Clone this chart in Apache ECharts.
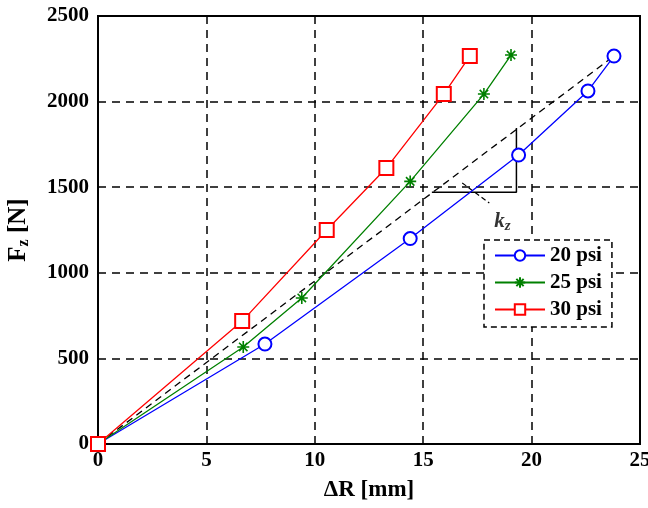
<!DOCTYPE html>
<html><head><meta charset="utf-8">
<script src="https://cdn.jsdelivr.net/npm/echarts@6/dist/echarts.min.js"></script>
<style>html,body{margin:0;padding:0;background:#fff}#c{width:648px;height:508px}</style>
</head><body><div id="c"></div>
<script>
const xTicks = [0, 5, 10, 15, 20, 25];
const yTicks = [0, 500, 1000, 1500, 2000, 2500];
const seriesNames = ['20 psi', '25 psi', '30 psi'];
const dR20 = [0, 7.7, 14.4, 19.4, 22.6, 23.8];
const fz20 = [0, 584, 1200, 1688, 2062, 2266];
const dR25 = [0, 6.7, 9.4, 14.4, 17.8, 19.05];
const fz25 = [0, 567, 853, 1534, 2044, 2272];
const dR30 = [0, 6.65, 10.55, 13.3, 15.95, 17.15];
const fz30 = [0, 718, 1250, 1612, 2044, 2266];
const kzLineX = [0, 23.8];
const kzLineY = [0, 2266];
const triX = [15.4, 19.3, 19.3];
const triY = [1470, 1470, 1846];
const leaderX = [16.8, 18.05];
const leaderY = [1525, 1408];
const kzLabelPos = [18.65, 1300];

const pairs = (xs, ys) => xs.map((x, i) => [x, ys[i]]);
const font = '"Liberation Serif","Times New Roman",serif';
const star = 'path://M0,-6L0,6M-6,0L6,0M-4.2,-4.2L4.2,4.2M-4.2,4.2L4.2,-4.2';

const chart = echarts.init(document.getElementById('c'), null, {renderer: 'canvas'});
chart.setOption({
  animation: false,
  backgroundColor: '#fff',
  textStyle: {fontFamily: font},
  grid: {left: 98, right: 8, top: 16, bottom: 64, show: true, borderColor: '#000', borderWidth: 2,
    backgroundColor: 'transparent', containLabel: false, outerBoundsMode: 'none'},
  xAxis: {
    type: 'value', min: 0, max: 25, interval: 5,
    name: 'ΔR [mm]', nameLocation: 'middle', nameGap: 35,
    nameTextStyle: {fontFamily: font, fontWeight: 'bold', fontSize: 23, color: '#000'},
    axisLine: {show: true, lineStyle: {color: '#000', width: 2}},
    axisTick: {show: false},
    axisLabel: {color: '#000', fontFamily: font, fontWeight: 'bold', fontSize: 21, margin: 6,
      formatter: v => xTicks.includes(v) ? String(v) : ''},
    splitLine: {show: true, lineStyle: {color: '#000', width: 1.5, type: [8, 6]}}
  },
  yAxis: {
    type: 'value', min: 0, max: 2500, interval: 500,
    name: '{b|F}{s|z}{b| [N]}', nameLocation: 'middle', nameGap: 66, nameRotate: 90,
    nameTextStyle: {color: '#000', rich: {
      b: {fontFamily: font, fontWeight: 'bold', fontSize: 25, color: '#000'},
      s: {fontFamily: font, fontWeight: 'bold', fontSize: 16, color: '#000', verticalAlign: 'bottom', padding: [10, 0, 0, 0]}
    }},
    axisLine: {show: true, lineStyle: {color: '#000', width: 2}},
    axisTick: {show: false},
    axisLabel: {color: '#000', fontFamily: font, fontWeight: 'bold', fontSize: 21, margin: 9,
      formatter: v => yTicks.includes(v) ? String(v) : ''},
    splitLine: {show: true, lineStyle: {color: '#000', width: 1.5, type: [8, 6]}}
  },
  legend: {
    data: seriesNames,
    orient: 'vertical', left: 484, top: 240,
    padding: [5, 10, 7, 10],
    itemWidth: 50, itemHeight: 13, itemGap: 6,
    backgroundColor: '#fff', borderColor: '#000', borderWidth: 1.5, borderType: [6, 4],
    textStyle: {fontFamily: font, fontWeight: 'bold', fontSize: 21, color: '#000'}
  },
  series: [
    {name: 'kz', type: 'line', data: pairs(kzLineX, kzLineY), symbol: 'none', silent: true,
      lineStyle: {color: '#000', width: 1.3, type: [7, 5]}, z: 3},
    {name: 'tri', type: 'line', data: pairs(triX, triY), symbol: 'none', silent: true,
      lineStyle: {color: '#000', width: 1.5}, z: 3},
    {name: 'leader', type: 'line', data: pairs(leaderX, leaderY), symbol: 'none', silent: true,
      lineStyle: {color: '#000', width: 1.2, type: [5, 3]}, z: 3},
    {name: 'kzLabel', type: 'scatter', data: [kzLabelPos], symbolSize: 0, silent: true,
      label: {show: true, position: 'inside', formatter: '{k|k}{z|z}',
        rich: {k: {fontFamily: font, fontWeight: 'bold', fontStyle: 'italic', fontSize: 21, color: '#000'},
               z: {fontFamily: font, fontWeight: 'bold', fontStyle: 'italic', fontSize: 15, color: '#000', verticalAlign: 'bottom', padding: [9, 0, 0, 0]}}}},
    {name: seriesNames[0], type: 'line', data: pairs(dR20, fz20), symbol: 'emptyCircle', symbolSize: 13,
      lineStyle: {color: '#0000ff', width: 1.3}, itemStyle: {color: '#0000ff', borderWidth: 1.4}, z: 5},
    {name: seriesNames[1], type: 'line', data: pairs(dR25, fz25), symbol: star, symbolSize: 12, symbolKeepAspect: true,
      lineStyle: {color: '#008000', width: 1.3}, itemStyle: {color: '#008000', borderColor: '#008000', borderWidth: 1.6}, z: 5},
    {name: seriesNames[2], type: 'line', data: pairs(dR30, fz30), symbol: 'emptyRect', symbolSize: 14,
      lineStyle: {color: '#ff0000', width: 1.3}, itemStyle: {color: '#ff0000', borderWidth: 1.4}, z: 5}
  ]
});
</script></body></html>
